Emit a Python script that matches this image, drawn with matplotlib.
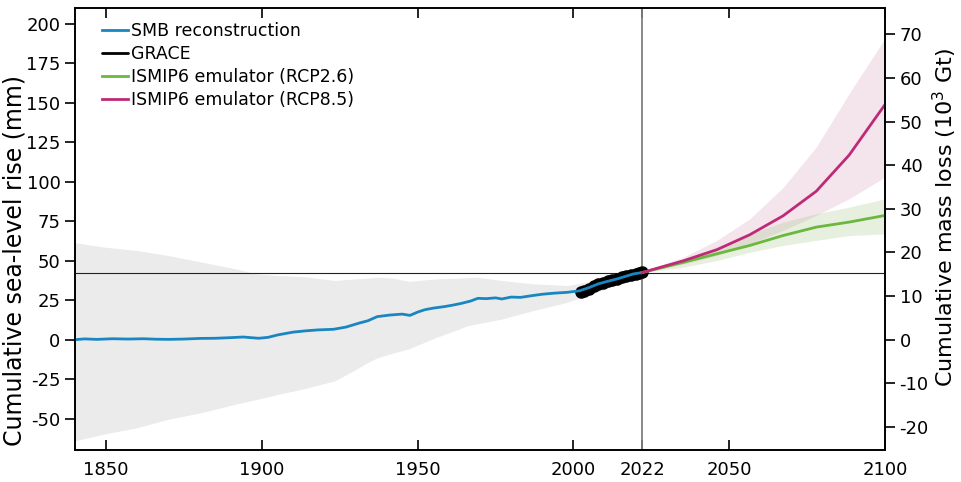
import numpy as np
import matplotlib
matplotlib.use("Agg")
import matplotlib.pyplot as plt

plt.rcParams["font.family"] = ["DejaVu Sans"]
plt.rcParams["axes.unicode_minus"] = False

# SMB reconstruction (mm SLE)
smb_years = [1840, 1843, 1847, 1852, 1857, 1862, 1866, 1870, 1875, 1880, 1885, 1890,
             1894, 1897, 1899, 1902, 1905, 1910, 1914, 1918, 1923, 1927, 1931, 1934,
             1937, 1941, 1945, 1947.5, 1950, 1952.3, 1955, 1958.7, 1961, 1964, 1967,
             1969.3, 1972, 1975, 1977, 1980, 1983, 1987, 1990, 1994, 1998, 2002, 2005,
             2008, 2011, 2014, 2017, 2019.3, 2022]
smb_vals = [0.0, 0.5, 0.2, 0.6, 0.4, 0.6, 0.3, 0.2, 0.4, 0.8, 0.9, 1.3,
            1.7, 1.2, 0.9, 1.5, 3.0, 4.8, 5.6, 6.2, 6.6, 8.0, 10.4, 12.0,
            14.6, 15.6, 16.2, 15.4, 17.5, 19.0, 20.0, 21.0, 21.8, 23.0, 24.5,
            26.2, 26.0, 26.5, 25.8, 27.0, 26.8, 28.0, 28.8, 29.5, 30.0, 31.0, 33.0,
            35.4, 37.0, 38.5, 40.3, 41.7, 42.5]

band_years = [1840, 1850, 1860, 1870, 1881, 1891.6, 1898, 1905.5, 1913, 1923.5, 1930,
              1934, 1937, 1942, 1947, 1956, 1963, 1966, 1969, 1977, 1987, 1998, 2010, 2022]
band_upper = [61.4, 58.5, 56.5, 53.3, 49.0, 44.9, 41.7, 40.6, 40.0, 37.5, 38.5,
              39.0, 39.6, 39.0, 37.0, 38.5, 39.0, 39.3, 39.6, 37.5, 35.4, 34.3, 38.5, 43.0]
band_lower = [-64.0, -59.5, -55.7, -50.4, -46.0, -40.8, -38.0, -34.5, -31.3, -26.0, -19.0,
              -14.4, -11.5, -8.5, -5.9, 1.5, 6.5, 8.9, 10.0, 13.1, 18.4, 23.7, 32.0, 41.5]

# GRACE (mm SLE)
grace_years = [2002.5, 2003.5, 2005, 2006.5, 2008, 2009.5, 2011, 2012.5, 2014, 2015.5,
               2017, 2018.5, 2020, 2021, 2022]
grace_vals = [30.2, 31.0, 32.4, 33.8, 35.2, 36.0, 37.0, 38.0, 38.6, 39.4,
              40.3, 41.0, 41.9, 42.3, 42.7]

# ISMIP6 emulator projections (mm SLE)
proj_years = [2022, 2024.6, 2035.3, 2046, 2056.6, 2067.3, 2077.9, 2088.5, 2100]
rcp26_mid = [42.5, 43.8, 49.0, 54.4, 59.7, 66.0, 71.3, 74.5, 78.7]
rcp26_lo = [42.5, 43.2, 45.9, 50.2, 55.4, 59.7, 62.9, 66.0, 67.0]
rcp26_hi = [42.5, 44.5, 51.2, 58.6, 67.0, 74.5, 79.8, 84.0, 89.3]
rcp85_mid = [42.5, 44.0, 50.0, 57.0, 66.5, 78.5, 94.0, 117.0, 149.0]
rcp85_lo = [42.5, 43.5, 48.0, 53.3, 60.8, 69.2, 78.7, 89.3, 103.0]
rcp85_hi = [42.5, 44.9, 52.3, 62.9, 76.6, 96.5, 122.0, 156.0, 191.0]

x_ticks = [1850, 1900, 1950, 2000, 2022, 2050, 2100]
mm_per_kgt = 1 / 0.3618

blue = "#1a86c1"
green = "#6ab83e"
magenta = "#bf2a78"

fig = plt.figure(figsize=(9.62, 4.82), dpi=100)
ax = fig.add_axes([0.078, 0.066, 0.842, 0.917])

ax.fill_between(band_years, band_lower, band_upper, color="#ebebeb", lw=0, zorder=1)
ax.fill_between(proj_years, rcp85_lo, rcp85_hi, color="#c06090", alpha=0.16, lw=0, zorder=1)
ax.fill_between(proj_years, rcp26_lo, rcp26_hi, color="#8ab860", alpha=0.2, lw=0, zorder=1)

ax.axhline(42.5, color="#222222", lw=0.8, zorder=2)
ax.axvline(2022, color="#808080", lw=1.3, zorder=2)

ax.plot(grace_years, grace_vals, color="black", lw=6, marker="o", ms=8,
        solid_capstyle="round", zorder=3, label="GRACE")
ax.plot(smb_years, smb_vals, color=blue, lw=2, zorder=4, label="SMB reconstruction")
ax.plot(proj_years, rcp26_mid, color=green, lw=2, zorder=4, label="ISMIP6 emulator (RCP2.6)")
ax.plot(proj_years, rcp85_mid, color=magenta, lw=2, zorder=4, label="ISMIP6 emulator (RCP8.5)")

ax.set_xlim(1840, 2100)
ax.set_ylim(-70, 210)
ax.set_xticks(x_ticks)
ax.set_yticks(np.arange(-50, 201, 25))
ax.tick_params(axis="x", direction="in", top=True, length=7, width=1.2, labelsize=13, pad=8)
ax.tick_params(axis="y", direction="out", length=7, width=1.2, labelsize=13)
ax.set_ylabel("Cumulative sea-level rise (mm)", fontsize=17)
ax.yaxis.set_label_coords(-0.06, 0.43)
for s in ax.spines.values():
    s.set_linewidth(1.2)

ax2 = ax.twinx()
ax2.set_ylim(-70 / mm_per_kgt, 210 / mm_per_kgt)
ax2.set_yticks(np.arange(-20, 71, 10))
ax2.tick_params(axis="y", direction="out", length=7, width=1.2, labelsize=13)
ax2.set_ylabel("Cumulative mass loss (10$^3$ Gt)", fontsize=16)
ax2.yaxis.set_label_coords(1.057, 0.527)
for s in ax2.spines.values():
    s.set_linewidth(1.2)

h, l = ax.get_legend_handles_labels()
order = [1, 0, 2, 3]
leg = ax.legend([h[i] for i in order], [l[i] for i in order], loc="upper left",
                frameon=False, fontsize=12.5, handlelength=1.5, handletextpad=0.15,
                labelspacing=0.3, borderaxespad=0.0, bbox_to_anchor=(0.025, 0.985))
for line in leg.get_lines():
    line.set_linewidth(2)
    line.set_marker("")

fig.savefig("out.png", dpi=100)
